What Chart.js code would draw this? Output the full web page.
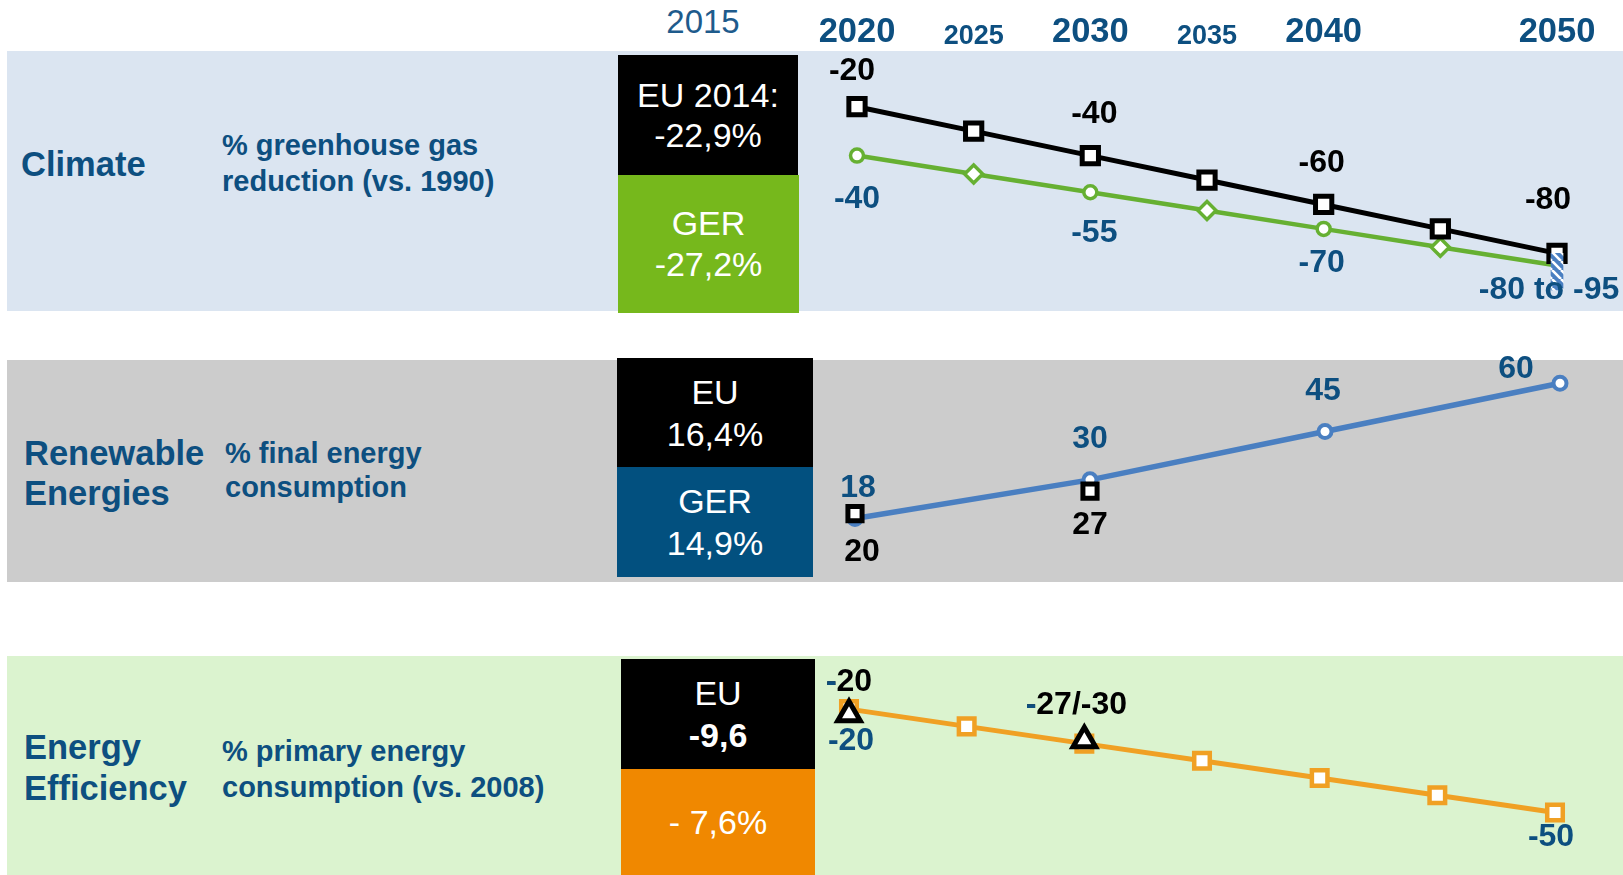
<!DOCTYPE html>
<html><head><meta charset="utf-8">
<script src="https://cdn.jsdelivr.net/npm/chart.js@4.4.1/dist/chart.umd.min.js"></script>
<style>
html,body{margin:0;padding:0;}
body{width:1623px;height:875px;position:relative;overflow:hidden;background:#fff;font-family:"Liberation Sans",Arial,sans-serif;}
.panel{position:absolute;left:7px;right:0;}
.box{position:absolute;display:flex;flex-direction:column;align-items:center;justify-content:center;color:#fff;font-size:34px;text-align:center;white-space:nowrap;}
.ttl{position:absolute;color:#0D4F80;font-weight:bold;white-space:nowrap;}
.cw{position:absolute;left:760px;width:863px;}
.cw canvas{display:block;}
</style></head><body>
<div class="panel" style="top:51px;height:260px;background:#DBE5F1"></div>
<div class="panel" style="top:360px;height:222px;background:#CCCCCC"></div>
<div class="panel" style="top:656px;height:219px;background:#DBF3CF"></div>

<div class="ttl" style="left:21px;top:147px;font-size:34.5px;line-height:34px">Climate</div>
<div class="ttl" style="left:222px;top:127px;font-size:29px;line-height:36px">% greenhouse gas<br>reduction (vs. 1990)</div>
<div class="ttl" style="left:24px;top:433px;font-size:34.5px;line-height:40px">Renewable<br>Energies</div>
<div class="ttl" style="left:225px;top:436px;font-size:29px;line-height:34px">% final energy<br>consumption</div>
<div class="ttl" style="left:24px;top:727px;font-size:34.5px;line-height:41px">Energy<br>Efficiency</div>
<div class="ttl" style="left:222px;top:733px;font-size:29px;line-height:36px">% primary energy<br>consumption (vs. 2008)</div>

<div id="y2015" style="position:absolute;left:603px;top:5px;width:200px;text-align:center;font-size:33px;line-height:33px;color:#1E5B8C"></div>

<div class="cw" style="top:0;height:311px"><canvas id="c1" width="863" height="311"></canvas></div>
<div class="cw" style="top:330px;height:252px"><canvas id="c2" width="863" height="252"></canvas></div>
<div class="cw" style="top:656px;height:219px"><canvas id="c3" width="863" height="219"></canvas></div>

<script>
// ---------------- data ----------------
const baseYear = '2015';
const years = [2020, 2025, 2030, 2035, 2040, 2045, 2050];
const headerYears = [2020, 2025, 2030, 2035, 2040, 2050];
const minorHeaderYears = [2025, 2035];

const climate2015 = ['EU 2014:\n-22,9%', 'GER\n-27,2%'];
const renew2015 = ['EU\n16,4%', 'GER\n14,9%'];
const eff2015 = ['EU\n-9,6', '- 7,6%'];

const climateEU = [-20, -30, -40, -50, -60, -70, -80];
const climateEULabels = ['-20', '', '-40', '', '-60', '', '-80'];
const climateGER = [-40, -47.5, -55, -62.5, -70, -77.5, -85];
const climateGERLabels = ['-40', '', '-55', '', '-70', '', '-80 to -95'];
const climateGERRangeYear = 2050;
const climateGERRange = [-95, -80];

const renewGERYears = [2020, 2030, 2040, 2050];
const renewGER = [18, 30, 45, 60];
const renewGERLabels = ['18', '30', '45', '60'];
const renewEUYears = [2020, 2030];
const renewEU = [19.5, 26.5];
const renewEULabels = ['20', '27'];

const effGER = [-20, -25, -30, -35, -40, -45, -50];
const effGERLabels = ['-20', '', '', '', '', '', '-50'];
const effEUYears = [2020, 2030];
const effEU = [-21.5, -29];
const effEULabels = ['-20', '-27/-30'];

// ---------------- layout / style ----------------
const FONT = '"Liberation Sans", Arial, sans-serif';
const BLUE_TXT = '#0D4F80';
const C = { black: '#000000', green: '#66B032', blue: '#4A7FC1', orange: '#F0A024' };

const boxLayout = [
  { left: 618, top: 55, w: 180, h: 120, bg: '#000000', lh: 40 },
  { left: 618, top: 175, w: 181, h: 138, bg: '#76B81C', lh: 41 },
  { left: 617, top: 358, w: 196, h: 109, bg: '#000000', lh: 42 },
  { left: 617, top: 467, w: 196, h: 110, bg: '#02507F', lh: 42 },
  { left: 621, top: 659, w: 194, h: 110, bg: '#000000', lh: 42, boldLine: 1 },
  { left: 621, top: 769, w: 194, h: 106, bg: '#F08800', lh: 42 }
];
const boxTexts = [...climate2015, ...renew2015, ...eff2015];
boxTexts.forEach((t, i) => {
  const L = boxLayout[i];
  const d = document.createElement('div');
  d.className = 'box';
  Object.assign(d.style, { left: L.left + 'px', top: L.top + 'px', width: L.w + 'px', height: L.h + 'px', background: L.bg, lineHeight: L.lh + 'px' });
  t.split('\n').forEach((line, k) => {
    const s = document.createElement('div');
    s.textContent = line;
    if (L.boldLine === k) s.style.fontWeight = 'bold';
    d.appendChild(s);
  });
  document.body.appendChild(d);
});
document.getElementById('y2015').textContent = baseYear;

// label offsets (pixels, relative to the point)
const OFF = {
  climateEU: [[-5, -36], null, [4, -41], null, [-2, -41], null, [-9, -53]],
  climateGER: [[0, 44], null, [4, 41], null, [-2, 34], null, [-8, 25]],
  renewGER: [[3, -30], [0, -41], [-2, -40], [-44, -14]],
  renewEU: [[7, 38], [0, 34]],
  effGER: [[2, 32], null, null, null, null, null, [-4, 25]],
  effEU: [[0, -32], [-8, -35]]
};

function hatchPattern() {
  const s = 9;
  const c = document.createElement('canvas');
  c.width = s; c.height = s;
  const g = c.getContext('2d');
  g.fillStyle = C.blue; g.fillRect(0, 0, s, s);
  g.strokeStyle = '#ffffff'; g.lineWidth = 2.6;
  g.beginPath();
  for (let k = -1; k <= 1; k++) { g.moveTo(k * s, 0); g.lineTo(k * s + s, s); }
  g.stroke();
  return g.createPattern(c, 'repeat');
}

const pointLabels = {
  id: 'pointLabels',
  afterDatasetsDraw(chart) {
    const ctx = chart.ctx;
    chart.data.datasets.forEach((ds, i) => {
      if (!ds.labels) return;
      const meta = chart.getDatasetMeta(i);
      meta.data.forEach((pt, j) => {
        const txt = ds.labels[j];
        if (!txt) return;
        const off = (ds.labelOffsets && ds.labelOffsets[j]) || [0, 0];
        const x = pt.x + off[0], y = pt.y + off[1];
        ctx.save();
        ctx.font = 'bold 32px ' + FONT;
        ctx.textAlign = 'center';
        ctx.textBaseline = 'middle';
        ctx.fillStyle = ds.labelColor;
        ctx.fillText(txt, x, y);
        if (ds.leadColor && ds.leadColor[j]) {
          const w = ctx.measureText(txt).width;
          ctx.textAlign = 'left';
          ctx.fillStyle = ds.leadColor[j];
          ctx.fillText(txt[0], x - w / 2, y);
        }
        ctx.restore();
      });
    });
  }
};

const xy = (xs, ys) => xs.map((x, i) => ({ x, y: ys[i] }));

function baseOptions(yMin, yMax, pad, header) {
  return {
    responsive: false,
    animation: false,
    events: [],
    layout: { autoPadding: false, padding: pad },
    plugins: { legend: { display: false }, tooltip: { enabled: false } },
    scales: {
      x: header ? {
        type: 'linear', position: 'top', min: 2020, max: 2050, offset: false,
        afterFit: s => { s.height = 51; s.paddingLeft = 0; s.paddingRight = 0; },
        grid: { display: false, drawTicks: false, offset: false },
        border: { display: false },
        ticks: {
          stepSize: 5, autoSkip: false, maxRotation: 0, padding: -2,
          color: BLUE_TXT,
          callback: v => headerYears.includes(v) ? String(v) : '',
          font: ctx => ({ family: FONT, weight: 'bold', size: (ctx.tick && minorHeaderYears.includes(ctx.tick.value)) ? 27 : 34.5 })
        }
      } : { type: 'linear', min: 2020, max: 2050, offset: false, display: false },
      y: { type: 'linear', min: yMin, max: yMax, display: false, beginAtZero: false }
    }
  };
}

const lineDS = (o) => Object.assign({
  type: 'line', tension: 0, clip: false, pointBackgroundColor: '#ffffff', labelColor: BLUE_TXT
}, o);

// Chart 1: climate
new Chart(document.getElementById('c1'), {
  type: 'line',
  data: {
    datasets: [
      { type: 'bar', data: [{ x: climateGERRangeYear, y: climateGERRange }], backgroundColor: hatchPattern(), borderWidth: 0, barThickness: 12, clip: false },
      lineDS({ data: xy(years, climateEU), borderColor: C.black, borderWidth: 5, pointStyle: 'rect', pointRadius: 11.5, pointBorderWidth: 5, pointBorderColor: C.black, labels: climateEULabels, labelOffsets: OFF.climateEU, labelColor: '#000000' }),
      lineDS({ data: xy(years, climateGER), borderColor: C.green, borderWidth: 4.5, pointStyle: ['circle', 'rectRot', 'circle', 'rectRot', 'circle', 'rectRot', 'circle'], pointRadius: [6.5, 9, 6.5, 9, 6.5, 9, 0], pointBorderWidth: 3.5, pointBorderColor: C.green, labels: climateGERLabels, labelOffsets: OFF.climateGER })
    ]
  },
  options: baseOptions(-103.6, 2.8, { left: 97, right: 66, top: 0, bottom: 0 }, true),
  plugins: [pointLabels]
});

// Chart 2: renewables
new Chart(document.getElementById('c2'), {
  type: 'line',
  data: {
    datasets: [
      lineDS({ data: xy(renewEUYears, renewEU), showLine: false, pointStyle: 'rect', pointRadius: 10, pointBorderWidth: 5, pointBorderColor: C.black, labels: renewEULabels, labelOffsets: OFF.renewEU, labelColor: '#000000' }),
      lineDS({ data: xy(renewGERYears, renewGER), borderColor: C.blue, borderWidth: 5.5, pointStyle: 'circle', pointRadius: 6.5, pointBorderWidth: 4, pointBorderColor: C.blue, labels: renewGERLabels, labelOffsets: OFF.renewGER })
    ]
  },
  options: baseOptions(-1.7, 67.2, { left: 95, right: 63, top: 30, bottom: 0 }, false),
  plugins: [pointLabels]
});

// Chart 3: efficiency
new Chart(document.getElementById('c3'), {
  type: 'line',
  data: {
    datasets: [
      lineDS({ data: xy(effEUYears, effEU), showLine: false, pointStyle: 'triangle', pointRadius: 13, pointBorderWidth: 5, pointBorderColor: C.black, labels: effEULabels, labelOffsets: OFF.effEU, labelColor: '#000000', leadColor: [BLUE_TXT, BLUE_TXT] }),
      lineDS({ data: xy(years, effGER), borderColor: C.orange, borderWidth: 5, pointStyle: 'rect', pointRadius: 11, pointBorderWidth: 4.5, pointBorderColor: C.orange, labels: effGERLabels, labelOffsets: OFF.effGER })
    ]
  },
  options: baseOptions(-68.1, -4.6, { left: 89, right: 68, top: 0, bottom: 0 }, false),
  plugins: [pointLabels]
});
</script>
</body></html>
